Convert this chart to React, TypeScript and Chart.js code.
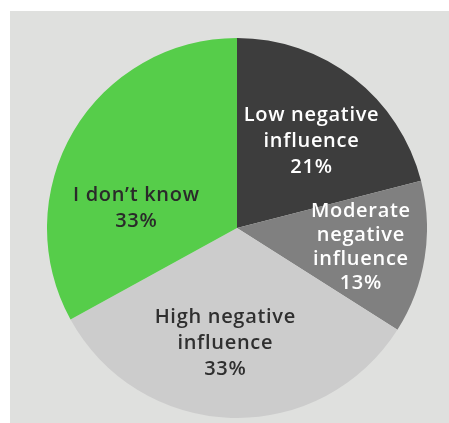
import React, { useEffect, useRef } from "react";
import { Chart, registerables } from "chart.js";

Chart.register(...registerables);

const categories = ["Low negative influence", "Moderate negative influence", "High negative influence", "I don't know"];
const labelLines = [
  ["Low negative", "influence"],
  ["Moderate", "negative", "influence"],
  ["High negative", "influence"],
  ["I don\u2019t know"],
];
const values = [21, 13, 33, 33];
const colors = ["#3d3d3d", "#808080", "#cccccc", "#56cd4a"];
const textColors = ["#ffffff", "#ffffff", "#2f2f2f", "#2a2a2a"];
// label placement: fraction of radius and angle shift (degrees)
const labelRadius = [0.6, 0.66, 0.61, 0.54];
const labelShift = [3, 0, 4, -19.6];

const labelPlugin = {
  id: "sliceLabels",
  afterDatasetsDraw(chart: any) {
    const ctx = chart.ctx;
    const meta = chart.getDatasetMeta(0);
    ctx.save();
    ctx.font = "600 20px 'Open Sans'";
    try { (ctx as any).letterSpacing = "0.7px"; } catch (e) {}
    ctx.textAlign = "center";
    ctx.textBaseline = "middle";
    meta.data.forEach((arc: any, i: number) => {
      const p = arc.getProps(["x", "y", "startAngle", "endAngle", "outerRadius"], true);
      const mid = (p.startAngle + p.endAngle) / 2 + (labelShift[i] * Math.PI) / 180;
      const r = p.outerRadius * labelRadius[i];
      const cx = p.x + Math.cos(mid) * r;
      const cy = p.y + Math.sin(mid) * r;
      const lines = [...labelLines[i], values[i] + "%"];
      const lh = i === 1 ? 24 : 26;
      const top = cy - ((lines.length - 1) * lh) / 2;
      ctx.fillStyle = textColors[i];
      lines.forEach((t, k) => ctx.fillText(t, cx, top + k * lh));
    });
    ctx.restore();
  },
};

export default function App() {
  const ref = useRef<HTMLCanvasElement | null>(null);
  useEffect(() => {
    if (!ref.current) return;
    const chart = new Chart(ref.current, {
      type: "pie",
      data: {
        labels: categories,
        datasets: [{ data: values, backgroundColor: colors, borderWidth: 0 }],
      },
      options: {
        animation: false,
        responsive: false,
        maintainAspectRatio: false,
        layout: { padding: 0 },
        plugins: { legend: { display: false }, tooltip: { enabled: false } },
      },
      plugins: [labelPlugin],
    });
    return () => chart.destroy();
  }, []);
  return (
    <div style={{ position: "fixed", left: 0, top: 0, width: 449, height: 423, background: "#ffffff" }}>
      <div style={{ position: "absolute", left: 10, top: 11, width: 439, height: 412, background: "#dfe0de" }} />
      <canvas ref={ref} width={380} height={380} style={{ position: "absolute", left: 47, top: 38, width: 380, height: 380 }} />
    </div>
  );
}
